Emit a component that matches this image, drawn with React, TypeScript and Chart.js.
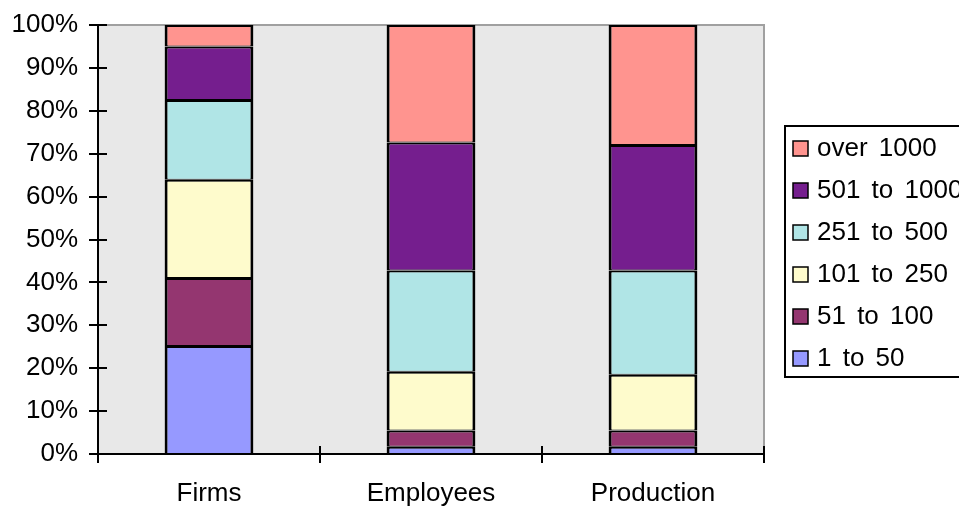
import React, { useEffect, useRef } from "react";
import { Chart, registerables } from "chart.js";

Chart.register(...registerables);

const categories = ["Firms", "Employees", "Production"];

const seriesLabels = ["1 to 50", "51 to 100", "101 to 250", "251 to 500", "501 to 1000", "over 1000"];
const size1to50 = [25.2, 1.7, 1.7];
const size51to100 = [15.8, 3.8, 3.8];
const size101to250 = [22.9, 13.7, 13.0];
const size251to500 = [18.6, 23.6, 24.3];
const size501to1000 = [12.5, 29.8, 29.2];
const sizeOver1000 = [5.0, 27.4, 28.0];
const seriesColors = ["#9699ff", "#943670", "#fefbcc", "#b0e5e6", "#751e8e", "#ff948f"];

const yTicks = [0, 10, 20, 30, 40, 50, 60, 70, 80, 90, 100];

const FONT = "'Liberation Sans', Arial, sans-serif";
const FONT_SIZE = 26;

// Gray plot background, frame, and crossing tick marks on both axes
const framePlugin = {
  id: "frame",
  beforeDatasetsDraw(chart: any) {
    const { ctx, chartArea: a } = chart;
    ctx.save();
    ctx.fillStyle = "#e8e8e8";
    ctx.fillRect(a.left, a.top, a.right - a.left, a.bottom - a.top);
    ctx.strokeStyle = "#a0a0a0";
    ctx.lineWidth = 2;
    ctx.beginPath();
    ctx.moveTo(a.left, a.top);
    ctx.lineTo(a.right, a.top);
    ctx.lineTo(a.right, a.bottom);
    ctx.stroke();
    ctx.restore();
  },
  afterDatasetsDraw(chart: any) {
    const { ctx, chartArea: a, scales } = chart;
    const x = scales.x;
    const y = scales.y;
    ctx.save();
    ctx.strokeStyle = "#000";
    ctx.lineWidth = 2;
    ctx.beginPath();
    // axes
    ctx.moveTo(a.left, a.top);
    ctx.lineTo(a.left, a.bottom + 9);
    ctx.moveTo(a.left, a.bottom);
    ctx.lineTo(a.right, a.bottom);
    // y ticks
    yTicks.forEach((v) => {
      const py = Math.round(y.getPixelForValue(v));
      ctx.moveTo(a.left - 9, py);
      ctx.lineTo(a.left + 9, py);
    });
    // x ticks at category boundaries
    for (let i = 0; i < categories.length; i++) {
      const px =
        i === categories.length - 1
          ? a.right
          : (x.getPixelForValue(i) + x.getPixelForValue(i + 1)) / 2;
      ctx.moveTo(px, a.bottom - 8);
      ctx.lineTo(px, a.bottom + 9);
    }
    ctx.stroke();
    ctx.restore();
  },
};

// Boxed legend on the right, listing series top-down from largest size class
const boxLegendPlugin = {
  id: "boxLegend",
  afterDraw(chart: any) {
    const { ctx } = chart;
    const datasets = chart.data.datasets;
    const left = 785;
    const top = 126;
    const bottom = 377;
    ctx.save();
    ctx.fillStyle = "#ffffff";
    ctx.fillRect(left, top, 200, bottom - top);
    ctx.strokeStyle = "#000";
    ctx.lineWidth = 2;
    ctx.strokeRect(left, top, 200, bottom - top);
    ctx.font = `${FONT_SIZE}px ${FONT}`;
    ctx.textBaseline = "middle";
    ctx.textAlign = "left";
    (ctx as any).wordSpacing = "4px";
    const rows = datasets.slice().reverse();
    rows.forEach((ds: any, i: number) => {
      const cy = 148 + i * 42;
      ctx.fillStyle = ds.backgroundColor;
      ctx.fillRect(793, cy - 7, 15, 15);
      ctx.strokeStyle = "#000";
      ctx.lineWidth = 1.5;
      ctx.strokeRect(793, cy - 7, 15, 15);
      ctx.fillStyle = "#000";
      ctx.fillText(ds.label, 817, cy + 1);
    });
    ctx.restore();
  },
};

export default function App() {
  const ref = useRef<HTMLCanvasElement | null>(null);

  useEffect(() => {
    if (!ref.current) return;
    const seriesValues = [size1to50, size51to100, size101to250, size251to500, size501to1000, sizeOver1000];
    const chart = new Chart(ref.current, {
      type: "bar",
      data: {
        labels: categories,
        datasets: seriesLabels.map((label, i) => ({
          label,
          data: seriesValues[i],
          backgroundColor: seriesColors[i],
          borderColor: "#000000",
          borderWidth: { top: 2, bottom: 1, left: 3, right: 3 },
          borderSkipped: false,
          categoryPercentage: 1,
          barPercentage: 0.4,
        })),
      },
      options: {
        responsive: false,
        animation: false,
        layout: { padding: { top: 25, right: 195, bottom: 0, left: 0 } },
        plugins: { legend: { display: false }, tooltip: { enabled: false } },
        scales: {
          x: {
            stacked: true,
            grid: { display: false },
            border: { display: false },
            ticks: { color: "#000", font: { family: FONT, size: FONT_SIZE }, padding: 16 },
            afterFit: (s: any) => {
              s.height = 52;
              s.paddingLeft = 0;
              s.paddingRight = 0;
            },
          },
          y: {
            stacked: true,
            min: 0,
            max: 100,
            grid: { display: false },
            border: { display: false },
            ticks: {
              stepSize: 10,
              color: "#000",
              font: { family: FONT, size: FONT_SIZE },
              padding: 12,
              callback: (v: any) => `${v}%`,
            },
            afterFit: (s: any) => {
              s.width = 98;
              s.paddingTop = 0;
              s.paddingBottom = 0;
            },
          },
        },
      },
      plugins: [framePlugin, boxLegendPlugin],
    });
    return () => chart.destroy();
  }, []);

  return (
    <div style={{ position: "absolute", left: 0, top: 0, width: 959, height: 506, background: "#fff" }}>
      <canvas ref={ref} width={959} height={506} style={{ display: "block" }} />
    </div>
  );
}
